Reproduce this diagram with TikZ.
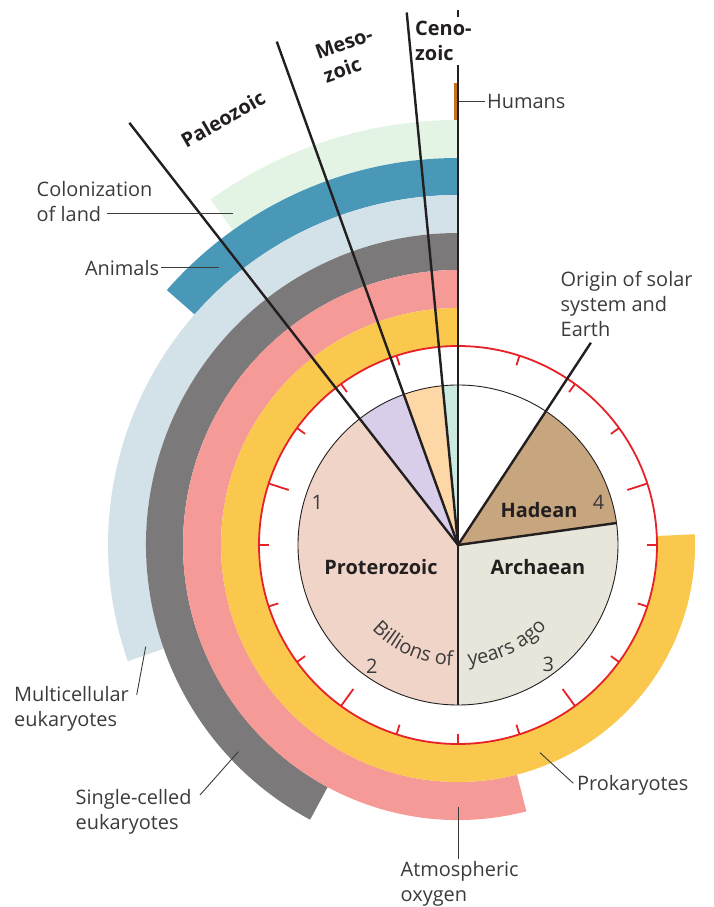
\documentclass[tikz,border=0pt]{standalone}
\usepackage{fontspec}
\setmainfont{Open Sans}
\usepackage{tikz}
\usetikzlibrary{decorations.text}
\usetikzlibrary{positioning}

\definecolor{txtgray}{HTML}{3B3B3B}
\definecolor{eraink}{HTML}{231F20}
\definecolor{clockred}{HTML}{E62129}
\definecolor{prokyellow}{HTML}{F9C84C}
\definecolor{oxypink}{HTML}{F69A98}
\definecolor{singlegray}{HTML}{7B797A}
\definecolor{multiblue}{HTML}{D3E1E8}
\definecolor{animalblue}{HTML}{4A98B8}
\definecolor{landgreen}{HTML}{E4F4E4}
\definecolor{humanbrown}{HTML}{C7721F}
\definecolor{proterofill}{HTML}{F0D4C8}
\definecolor{archaefill}{HTML}{E8E6DA}
\definecolor{hadefill}{HTML}{C7A57E}
\definecolor{paleofill}{HTML}{D8CEEA}
\definecolor{mesofill}{HTML}{FDD8A6}
\definecolor{cenofill}{HTML}{CBEBE1}

\begin{document}
\begin{tikzpicture}[x=1bp, y=1bp, every node/.style={font=\fontsize{20}{25}\selectfont, text=txtgray}]
		\tikzstyle{lbl}=[align=left, inner sep=0pt]
		\tikzstyle{eon}=[inner sep=0pt, text=eraink, font=\fontsize{20}{25}\selectfont\bfseries]
		\tikzstyle{eraline}=[line width=2.4bp, eraink]
		\tikzstyle{leader}=[line width=0.9bp, txtgray]
		\tikzstyle{shorttick}=[line width=1.8bp, clockred]
		\tikzstyle{longtick}=[line width=1.8bp, clockred]

		\useasboundingbox (-458,-362) rectangle (256,545);
		\coordinate (O) at (0,0);

    % Bands
		\fill[landgreen] (90:387) arc[start angle=90, end angle=125.6, radius=387] -- (125.6:425) arc[start angle=125.6, end angle=90, radius=425] -- cycle;
		\fill[animalblue] (90:350) arc[start angle=90, end angle=138.8, radius=350] -- (138.8:387) arc[start angle=138.8, end angle=90, radius=387] -- cycle;
		\fill[multiblue] (90:312) arc[start angle=90, end angle=199.4, radius=312] -- (199.4:350) arc[start angle=199.4, end angle=90, radius=350] -- cycle;
		\fill[singlegray] (90:275) arc[start angle=90, end angle=241.7, radius=275] -- (241.7:312) arc[start angle=241.7, end angle=90, radius=312] -- cycle;
		\fill[oxypink] (90:237) arc[start angle=90, end angle=284.4, radius=237] -- (284.4:275) arc[start angle=284.4, end angle=90, radius=275] -- cycle;
		\fill[prokyellow] (90:199) arc[start angle=90, end angle=362.6, radius=199] -- (362.6:237) arc[start angle=362.6, end angle=90, radius=237] -- cycle;
		\fill[humanbrown] (-4,425) rectangle (0,462);

    % Eons and eras
		\fill[hadefill] (O) -- (7.9:160) arc[start angle=7.9, end angle=56.7, radius=160] -- cycle;
		\fill[archaefill] (O) -- (-90:160) arc[start angle=-90, end angle=7.9, radius=160] -- cycle;
		\fill[proterofill] (O) -- (127.9:160) arc[start angle=127.9, end angle=270, radius=160] -- cycle;
		\fill[paleofill] (O) -- (109.8:160) arc[start angle=109.8, end angle=127.9, radius=160] -- cycle;
		\fill[mesofill] (O) -- (95.5:160) arc[start angle=95.5, end angle=109.8, radius=160] -- cycle;
		\fill[cenofill] (O) -- (90:160) arc[start angle=90, end angle=95.5, radius=160] -- cycle;
		\draw[line width=0.9bp, eraink] (O) circle[radius=160];

    % Clock face
		\draw[line width=1.8bp, clockred] (O) circle[radius=199];
		\draw[shorttick] (0:189) -- (0:199);
		\draw[shorttick] (36:189) -- (36:199);
		\draw[shorttick] (54:189) -- (54:199);
		\draw[shorttick] (72:189) -- (72:199);
		\draw[shorttick] (108:189) -- (108:199);
		\draw[shorttick] (126:189) -- (126:199);
		\draw[shorttick] (144:189) -- (144:199);
		\draw[shorttick] (180:189) -- (180:199);
		\draw[shorttick] (198:189) -- (198:199);
		\draw[shorttick] (216:189) -- (216:199);
		\draw[shorttick] (252:189) -- (252:199);
		\draw[shorttick] (270:189) -- (270:199);
		\draw[shorttick] (288:189) -- (288:199);
		\draw[shorttick] (324:189) -- (324:199);
		\draw[shorttick] (342:189) -- (342:199);
		\draw[longtick] (18:178) -- (18:199);
		\draw[longtick] (162:178) -- (162:199);
		\draw[longtick] (234:178) -- (234:199);
		\draw[longtick] (306:178) -- (306:199);

    % Boundaries
		\draw[eraline] (O) -- (127.9:535);
		\draw[eraline] (O) -- (109.8:535);
		\draw[eraline] (O) -- (95.5:535);
		\draw[eraline] (O) -- (90:535);
		\draw[eraline] (O) -- (56.7:242);
		\draw[eraline] (O) -- (7.9:160);
		\draw[eraline] (O) -- (-90:160);

    % Inside the clock
		\node[eon](protero) at (-77,-22){Proterozoic};
		\node[eon](archae) at (80,-22){Archaean};
		\node[eon](hade) at (81,35){Hadean};
		\node(n1) at (163:147){1};
		\node(n2) at (234.7:149){2};
		\node(n3) at (307:150){3};
		\node(n4) at (17:147){4};
		\path[decorate, decoration={text along path, text color=txtgray, text={|\fontsize{20}{25}\selectfont|Billions of}}] (-135.5:121) arc[start angle=-135.5, end angle=-91, radius=121];
		\path[decorate, decoration={text along path, text color=txtgray, text={|\fontsize{20}{25}\selectfont|years ago}}] (-85:121) arc[start angle=-85, end angle=-30, radius=121];

    % Era names
		\node[eon, rotate=30](paleo) at (-235,426){Paleozoic};
		\node[eon, align=left, rotate=19.5](meso) at (-110,490){Meso-\\zoic};
		\node[eon, align=left, fill=white, inner xsep=2bp, inner ysep=4bp, anchor=north west](ceno) at (-45,528){Ceno-\\zoic};

    % Labels
		\coordinate (humtip) at (1,443.5);
		\node[lbl, right=28bp of humtip](hum){Humans};
		\draw[leader] (humtip) -- ([xshift=-2bp]hum.west);

		\node[lbl, anchor=north west](colon) at (-421.5,363.5){Colonization\\of land};
		\coordinate (colontail) at (-351.3,331.7);
		\coordinate (colontip) at (-224.7,331.7);
		\draw[leader] (colontail) -- (colontip);

		\coordinate (animtip) at (-238.7,277.3);
		\node[lbl, left=60bp of animtip](anim){Animals};
		\draw[leader, shorten <=2bp] (anim) -- (animtip);

		\node[lbl, anchor=north west](orig) at (102.5,274){Origin of solar\\system and\\Earth};

		\node[lbl, anchor=north west](multi) at (-444,-141.5){Multicellular\\eukaryotes};
		\coordinate (multitail) at (-321.3,-150);
		\coordinate (multitip) at (-312.3,-101.7);
		\draw[leader] (multitail) -- (multitip);

		\node[lbl, anchor=north west](single) at (-382.5,-243.8){Single-celled\\eukaryotes};
		\coordinate (singletail) at (-258,-250);
		\coordinate (singletip) at (-219.7,-206.7);
		\draw[leader] (singletail) -- (singletip);

		\node[lbl, anchor=north west](oxy) at (-57.5,-316.5){Atmospheric\\oxygen};
		\coordinate (oxytip) at (0.7,-261.7);
		\draw[leader] ([yshift=3bp]oxy.north -| oxytip) -- (oxytip);

		\node[lbl, anchor=base west](prok) at (119,-245){Prokaryotes};
		\coordinate (proktail) at (115.3,-238.3);
		\coordinate (proktip) at (82,-207.7);
		\draw[leader] (proktail) -- (proktip);

\end{tikzpicture}
\end{document}
